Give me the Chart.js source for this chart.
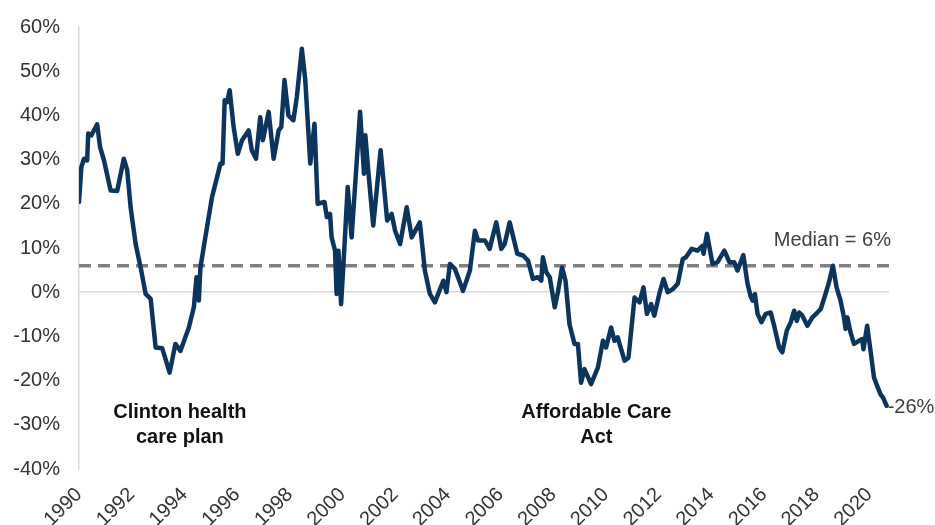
<!DOCTYPE html>
<html>
<head>
<meta charset="utf-8">
<script src="https://cdn.jsdelivr.net/npm/chart.js@4.4.0/dist/chart.umd.min.js"></script>
<style>
  html, body { margin: 0; padding: 0; background: #fff; }
  #wrap { width: 935px; height: 525px; position: relative; }
</style>
</head>
<body>
<div id="wrap"><canvas id="chart"></canvas></div>
<script>
// Time axis (decimal years) and series values (%)
const years = [
  1990.00, 1990.09, 1990.19, 1990.31, 1990.35, 1990.47, 1990.69, 1990.80, 1990.95, 1991.20,
  1991.45, 1991.70, 1991.83, 1991.96, 1992.15, 1992.34, 1992.53, 1992.72, 1992.91, 1993.16,
  1993.44, 1993.66, 1993.85, 1994.17, 1994.36, 1994.46, 1994.55, 1994.61, 1994.86, 1995.05,
  1995.37, 1995.45, 1995.53, 1995.62, 1995.72, 1995.87, 1996.03, 1996.19, 1996.44, 1996.56,
  1996.72, 1996.88, 1996.98, 1997.20, 1997.39, 1997.58, 1997.68, 1997.80, 1997.95, 1998.14,
  1998.27, 1998.46, 1998.59, 1998.78, 1998.94, 1999.06, 1999.32, 1999.41, 1999.53, 1999.59,
  1999.72, 1999.78, 1999.85, 1999.95, 2000.04, 2000.20, 2000.35, 2000.67, 2000.82, 2000.87,
  2000.98, 2001.17, 2001.45, 2001.70, 2001.87, 2002.00, 2002.19, 2002.44, 2002.63, 2002.94,
  2003.13, 2003.32, 2003.51, 2003.83, 2003.95, 2004.08, 2004.27, 2004.58, 2004.84, 2005.03,
  2005.15, 2005.41, 2005.59, 2005.84, 2006.03, 2006.16, 2006.35, 2006.64, 2006.86, 2007.05,
  2007.23, 2007.42, 2007.55, 2007.61, 2007.74, 2007.87, 2008.06, 2008.18, 2008.34, 2008.47,
  2008.62, 2008.81, 2008.94, 2009.06, 2009.19, 2009.44, 2009.70, 2009.89, 2010.01, 2010.20,
  2010.33, 2010.45, 2010.71, 2010.86, 2011.09, 2011.28, 2011.43, 2011.56, 2011.72, 2011.84,
  2012.03, 2012.19, 2012.35, 2012.54, 2012.73, 2012.92, 2013.04, 2013.26, 2013.48, 2013.67,
  2013.71, 2013.84, 2014.05, 2014.24, 2014.50, 2014.69, 2014.87, 2015.00, 2015.22, 2015.38,
  2015.50, 2015.57, 2015.66, 2015.76, 2015.91, 2016.07, 2016.26, 2016.39, 2016.58, 2016.70,
  2016.87, 2017.02, 2017.15, 2017.25, 2017.34, 2017.46, 2017.65, 2017.84, 2018.03, 2018.16,
  2018.34, 2018.47, 2018.62, 2018.76, 2018.91, 2019.04, 2019.10, 2019.17, 2019.29, 2019.42,
  2019.61, 2019.73, 2019.78, 2019.92, 2020.05, 2020.18, 2020.30, 2020.43, 2020.53, 2020.66
];
const values = [
  20.4, 28.3, 30.2, 29.8, 35.9, 35.5, 38.0, 32.8, 29.8, 23.0,
  22.9, 30.2, 27.6, 19.2, 10.9, 5.6, -0.4, -1.5, -12.5, -12.7,
  -18.2, -11.7, -13.3, -8.0, -3.4, 3.4, -1.9, 5.6, 14.7, 21.5,
  29.1, 29.1, 43.4, 43.0, 45.7, 37.4, 31.3, 34.4, 36.6, 32.1,
  30.2, 39.6, 34.4, 40.8, 30.2, 36.6, 37.4, 48.0, 40.0, 38.9,
  44.2, 55.1, 48.0, 29.1, 38.1, 20.0, 20.4, 17.0, 17.7, 12.4,
  9.4, -0.4, 9.4, -2.7, 6.4, 23.8, 12.4, 40.8, 26.8, 35.5,
  27.6, 15.1, 32.1, 16.2, 17.7, 13.9, 10.9, 19.2, 12.4, 15.8,
  4.9, -0.4, -2.3, 2.6, 0.0, 6.4, 5.3, 0.3, 4.9, 13.9,
  11.7, 11.7, 9.8, 15.8, 9.8, 10.9, 15.8, 8.7, 8.3, 7.1,
  3.0, 3.4, 2.6, 7.9, 4.5, 3.4, -3.4, 0.0, 5.6, 2.6,
  -7.2, -11.7, -11.7, -20.5, -17.4, -20.8, -17.0, -11.0, -12.5, -8.0,
  -11.0, -10.2, -15.5, -14.8, -1.2, -2.3, 1.1, -4.9, -2.7, -5.3,
  -0.4, 3.0, 0.0, 0.7, 1.9, 7.5, 7.9, 9.8, 9.4, 10.5,
  8.7, 13.2, 6.4, 6.8, 9.4, 6.8, 6.8, 4.9, 8.4, 1.9,
  -1.0, -1.9, -0.4, -4.9, -6.8, -4.9, -4.6, -7.6, -12.5, -13.6,
  -8.7, -6.8, -4.2, -6.5, -4.6, -5.3, -7.6, -5.7, -4.6, -3.8,
  -0.4, 2.2, 6.0, 1.1, -1.9, -5.7, -8.3, -5.7, -9.1, -11.7,
  -11.0, -10.6, -12.9, -7.6, -13.3, -19.3, -21.2, -23.1, -23.9, -25.7
];

const tickYears = [1990, 1992, 1994, 1996, 1998, 2000, 2002, 2004, 2006, 2008, 2010, 2012, 2014, 2016, 2018, 2020];
const medianValue = 6;
const xRange = [1990, 2020.75];
const yRange = [-40, 60];

// Text notes: [year, value, lines]
const notes = [
  { x: 1993.83, y: -27.3, lines: ['Clinton health', 'care plan'] },
  { x: 2009.64, y: -27.3, lines: ['Affordable Care', 'Act'] }
];

const points = years.map((yr, i) => ({ x: yr, y: values[i] }));
const medianLine = [{ x: xRange[0], y: medianValue }, { x: xRange[1], y: medianValue }];

const FONT = '"Liberation Sans", Arial, Helvetica, sans-serif';

const notesPlugin = {
  id: 'notes',
  afterDatasetsDraw(chart) {
    const ctx = chart.ctx;
    const xs = chart.scales.x;
    const ys = chart.scales.y;
    ctx.save();
    ctx.textBaseline = 'middle';

    // event labels
    ctx.fillStyle = '#111111';
    ctx.font = 'bold 20px ' + FONT;
    ctx.textAlign = 'center';
    notes.forEach(n => {
      const px = xs.getPixelForValue(n.x);
      const py = ys.getPixelForValue(n.y);
      n.lines.forEach((line, i) => ctx.fillText(line, px, py + i * 25));
    });

    // median label
    ctx.fillStyle = '#404040';
    ctx.font = '20px ' + FONT;
    ctx.fillText('Median = ' + medianValue + '%', xs.getPixelForValue(2018.6), ys.getPixelForValue(11.7));

    // last value label
    const last = values[values.length - 1];
    ctx.textAlign = 'left';
    ctx.fillText(Math.round(last) + '%', xs.getPixelForValue(years[years.length - 1]) + 1, ys.getPixelForValue(last) + 2);
    ctx.restore();
  }
};

new Chart(document.getElementById('chart'), {
  type: 'line',
  data: {
    datasets: [
      {
        data: medianLine,
        borderColor: '#808080',
        borderWidth: 3.5,
        borderDash: [12, 7],
        pointRadius: 0,
        fill: false,
        order: 2
      },
      {
        data: points,
        borderColor: '#0c355e',
        borderWidth: 4.5,
        borderJoinStyle: 'round',
        borderCapStyle: 'round',
        pointRadius: 0,
        tension: 0,
        fill: false,
        order: 1
      }
    ]
  },
  options: {
    responsive: true,
    maintainAspectRatio: false,
    animation: false,
    layout: { padding: { top: 27, right: 46, bottom: 0, left: 0 } },
    plugins: {
      legend: { display: false },
      tooltip: { enabled: false }
    },
    scales: {
      x: {
        type: 'linear',
        min: xRange[0],
        max: xRange[1],
        afterBuildTicks: scale => { scale.ticks = tickYears.map(v => ({ value: v })); },
        afterFit: scale => { scale.height = 56; },
        border: { display: false },
        grid: { display: false, drawTicks: false },
        ticks: {
          autoSkip: false,
          minRotation: 45,
          maxRotation: 45,
          padding: 14,
          color: '#333333',
          font: { family: FONT, size: 20 },
          callback: v => String(v)
        }
      },
      y: {
        min: yRange[0],
        max: yRange[1],
        afterFit: scale => {
          scale.width = 79;
          scale.paddingTop = 0;
          scale.paddingBottom = 0;
        },
        border: { display: true, color: '#d9d9d9', width: 1.5 },
        grid: {
          drawTicks: false,
          lineWidth: 1.5,
          color: c => (c.tick && c.tick.value === 0 ? '#d9d9d9' : 'rgba(0,0,0,0)')
        },
        ticks: {
          stepSize: 10,
          padding: 19,
          color: '#333333',
          font: { family: FONT, size: 20 },
          callback: v => v + '%'
        }
      }
    }
  },
  plugins: [notesPlugin]
});
</script>
</body>
</html>
